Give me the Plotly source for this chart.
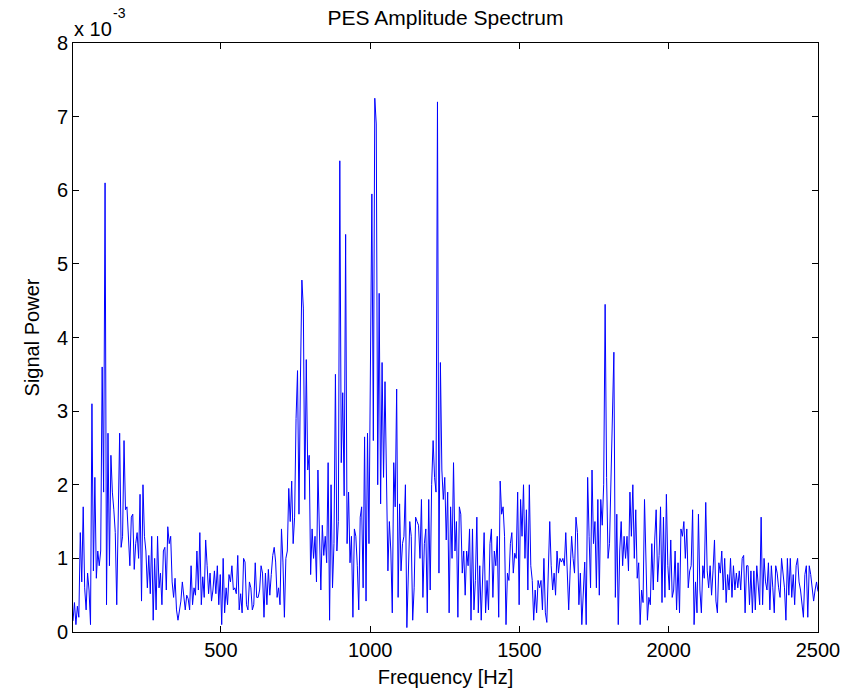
import numpy as np
import plotly.graph_objects as go

# Frequency resolution of the spectrum (Hz per bin)
FREQ_STEP = 2500 / 512

# Signal power values (units of 1e-3), in segments
seg1 = [0.15, 0.4, 0.1, 0.35, 0.2, 1.35, 0.68, 1.7, 0.6, 0.3, 0.8, 0.57, 0.1, 3.1, 0.83, 2.1, 0.73, 1.1, 0.9, 1.1,
        3.6, 1.9, 6.1, 0.37, 2.7, 0.9, 2.4, 1.9, 1.66, 1.35, 0.37, 1.4, 2.7, 1.15, 1.3, 2.6, 1.66, 1.7, 1.3, 0.9,
        1.56, 1.6]
seg2 = [0.85, 1.2, 1.35, 1.0, 1.87, 0.42, 2.0, 1.3, 1.1, 0.6, 1.04, 0.52, 1.3, 0.16, 1.0, 0.3, 1.3, 0.6, 0.8, 0.37,
        1.1, 1.15, 0.57, 1.43, 1.2, 1.3, 0.68, 0.47, 0.73, 0.3, 0.16, 0.3, 0.42, 0.68, 0.45, 0.3, 0.5, 0.45, 0.3,
        0.9, 0.37, 0.6, 0.5]
seg3 = [1.1, 0.57, 1.35, 0.37, 0.75, 0.47, 1.25, 0.9, 0.52, 0.8, 0.42, 0.57, 0.83, 0.52, 0.9, 0.37, 0.78, 0.1, 1.0,
        0.26, 0.6, 0.37, 0.78, 0.68, 0.9, 0.57, 0.6, 0.52, 1.04, 0.3, 0.52, 0.26, 1.0, 0.95, 0.37, 0.3, 0.68, 0.6,
        0.3, 0.37, 0.94, 0.47]
seg4 = [0.47, 0.57, 0.9, 0.8, 0.2, 0.8, 0.37, 0.85, 0.5, 0.78, 1.04, 1.15, 0.95, 0.47, 0.6, 0.37, 1.4, 0.95, 0.2,
        1.0, 1.1, 1.95, 1.5, 2.05, 1.2, 1.56, 2.9, 3.55, 1.6, 3.45, 4.78, 4.4, 1.8, 3.7, 2.2, 2.4, 0.78, 1.4, 1.0,
        1.3, 0.68, 2.2, 1.15]
seg5 = [0.57, 1.45, 1.04, 1.3, 0.94, 2.3, 0.16, 2.0, 0.6, 1.2, 3.5, 1.1, 1.5, 6.4, 2.3, 3.25, 1.85, 5.4, 1.2, 1.9,
        0.94, 1.3, 0.2, 1.4, 1.3, 0.9, 0.3, 1.56, 1.7, 0.6, 2.65, 0.42, 2.7, 1.2, 4.4, 5.95, 2.6, 7.25, 6.9, 2.0,
        4.6]
seg6 = [1.74, 3.66, 2.1, 3.4, 2.0, 0.83, 1.5, 1.1, 0.26, 2.3, 1.7, 3.3, 0.47, 1.74, 0.83, 1.2, 1.3, 2.0, 0.06, 0.83,
        1.5, 1.3, 0.16, 0.6, 1.56, 1.5, 1.45, 1.0, 1.8, 0.47, 1.2, 1.4, 0.26, 1.8, 0.57, 2.0, 2.6, 2.1, 1.9, 7.2,
        0.8, 3.66, 2.2, 1.8]
seg7 = [2.1, 1.25, 1.9, 0.26, 1.7, 1.0, 2.3, 1.1, 1.5, 0.2, 1.7, 1.6, 0.8, 1.1, 0.5, 1.1, 0.9, 1.4, 0.16, 1.4, 0.3,
        0.7, 1.56, 0.26, 0.9, 0.16, 0.9, 1.35, 0.26, 0.7, 0.3, 1.2, 1.4, 0.47, 1.1, 0.9, 1.3, 0.2, 2.05, 1.6, 1.7,
        1.3]
seg8 = [0.1, 0.8, 0.7, 1.2, 1.35, 0.8, 1.07, 1.0, 1.9, 0.37, 1.8, 1.3, 2.0, 1.0, 1.66, 0.57, 2.0, 0.9, 0.7, 0.16,
        0.57, 0.26, 0.7, 0.6, 0.7, 0.3, 1.0, 0.26, 0.13, 0.7, 1.5, 0.9, 0.57, 0.8, 0.5, 1.1, 0.8, 1.0, 0.95, 1.0,
        0.9, 1.35, 0.8]
seg9 = [0.3, 0.83, 1.3, 1.0, 0.8, 1.56, 1.35, 0.37, 0.8, 0.1, 0.6, 0.95, 0.1, 2.1, 1.3, 0.6, 2.2, 1.2, 1.5, 0.6,
        1.8, 0.5, 1.8, 1.45, 2.0, 4.45, 2.1, 1.0, 1.2, 2.0, 3.2, 3.8, 0.47, 1.6, 0.1, 1.1, 1.5, 0.9, 1.3, 1.0]
seg10 = [1.3, 0.83, 1.9, 1.3, 2.0, 1.0, 1.66, 0.73, 0.94, 0.1, 0.57, 0.4, 1.8, 0.9, 0.16, 0.47, 0.37, 1.2, 0.57,
         1.25, 1.66, 0.68, 1.04, 1.7, 0.4, 1.56, 0.47, 1.87, 0.9, 0.57, 1.25, 0.47, 0.57, 1.1, 0.3, 0.94, 0.26,
         1.4, 1.3, 1.5, 1.0, 1.4, 0.6]
seg11 = [0.83, 0.9, 1.66, 0.1, 0.68, 0.26, 1.6, 0.57, 0.26, 0.9, 0.73, 1.76, 0.83, 0.6, 0.9, 0.5, 0.83, 1.25, 0.42,
         0.26, 0.94, 0.8, 1.1, 0.57, 1.0, 0.4, 0.78, 0.57, 1.0, 0.47, 0.9, 0.57, 0.8, 0.6, 0.83, 0.57, 1.0, 1.04,
         0.26, 0.9, 0.9, 0.37, 0.83, 0.26]
seg12 = [0.83, 0.3, 0.9, 0.57, 0.37, 1.56, 0.37, 1.0, 0.68, 0.57, 0.94, 0.3, 0.9, 0.6, 0.26, 0.9, 0.8, 0.6, 0.47,
         1.0, 0.83, 0.6, 0.16, 1.0, 0.5, 1.0, 0.47, 0.78, 0.37, 0.9, 1.0, 0.68, 0.57, 0.42, 0.2, 0.78, 0.9, 0.2,
         0.9, 0.78, 0.6, 0.42, 0.57, 0.68, 0.55]

power = seg1 + seg2 + seg3 + seg4 + seg5 + seg6 + seg7 + seg8 + seg9 + seg10 + seg11 + seg12
freq = np.arange(1, len(power) + 1) * FREQ_STEP

x_ticks = [500, 1000, 1500, 2000, 2500]
y_ticks = [0, 1, 2, 3, 4, 5, 6, 7, 8]

FONT = "Liberation Sans, Arial, Helvetica, sans-serif"
FS = 20

fig = go.Figure()
fig.add_trace(go.Scatter(x=freq, y=power, mode="lines",
                         line=dict(color="#0000ff", width=1), showlegend=False))

axis_common = dict(showline=True, linecolor="black", linewidth=1, mirror="ticks",
                   ticks="inside", ticklen=6, tickcolor="black", showgrid=False,
                   zeroline=False, automargin=False,
                   tickfont=dict(family=FONT, size=FS, color="black"))

fig.update_layout(
    width=857, height=694,
    paper_bgcolor="white", plot_bgcolor="white",
    margin=dict(l=73, r=39, t=43, b=62),
    title=dict(text="PES Amplitude Spectrum", x=0.5, xref="paper", y=0.974, yref="container",
               xanchor="center", yanchor="middle",
               font=dict(family=FONT, size=21, color="black")),
    xaxis=dict(range=[FREQ_STEP, 2500], tickvals=x_ticks, ticktext=[str(v) for v in x_ticks],
               title=dict(text="Frequency [Hz]", standoff=9,
                          font=dict(family=FONT, size=FS, color="black")),
               **axis_common),
    yaxis=dict(range=[0, 8], tickvals=y_ticks, ticktext=[str(v) for v in y_ticks],
               title=dict(text="Signal Power", standoff=11,
                          font=dict(family=FONT, size=FS, color="black")),
               **axis_common),
    annotations=[
        dict(text="x 10", xref="paper", yref="paper", x=0.0, y=1.0,
             xanchor="left", yanchor="middle", yshift=14, showarrow=False, borderpad=0,
             font=dict(family=FONT, size=FS, color="black")),
        dict(text="-3", xref="paper", yref="paper", x=0.052, y=1.0,
             xanchor="left", yanchor="middle", yshift=30, showarrow=False, borderpad=0,
             font=dict(family=FONT, size=14, color="black")),
    ],
)

# remove the default 8px page margin so the figure fills the window exactly
fig.write_html("out.html", config={"displayModeBar": False},
               post_script="document.body.style.margin='0';")
